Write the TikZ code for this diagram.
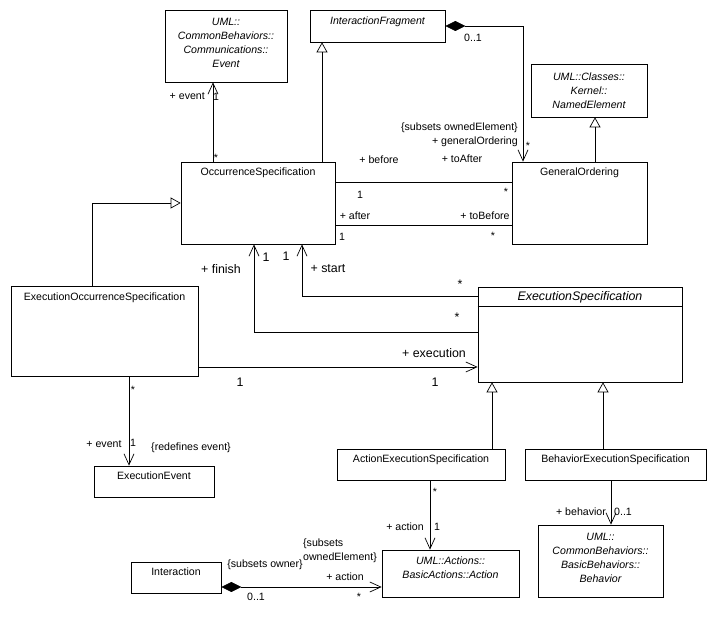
\documentclass[tikz,border=0pt]{standalone}
\usepackage{fontspec}
\setmainfont{Liberation Sans}
\usetikzlibrary{arrows.meta}
\newcommand{\umlsmall}{\fontsize{10.6}{14}\selectfont}
\newcommand{\umlbig}{\fontsize{12.4}{15}\selectfont}
\tikzset{
  cls/.style={draw, line width=0.7pt, inner sep=0pt},
  ttl/.style={font=\umlsmall, inner sep=0pt, anchor=north, align=center},
  lbl/.style={font=\umlsmall, inner sep=0pt},
  big/.style={font=\umlbig, inner sep=0pt},
  plain/.style={line width=0.7pt},
  assoc/.style={line width=0.7pt, -{Straight Barb[length=11pt,width=10pt]}},
  gen/.style={line width=0.7pt, -{Triangle[open,length=10pt,width=11pt]}},
  comp/.style={line width=0.7pt, {Diamond[length=20pt,width=10pt]}-{Straight Barb[length=11pt,width=10pt]}},
}
\begin{document}
\begin{tikzpicture}[x=1pt,y=-1pt]
\path[fill=white, use as bounding box] (0,0) rectangle (716,628);

%Event
\node[cls, minimum width=122pt, minimum height=72pt] (evt) at (226,46) {};
\node[ttl] (tEvt) at ([yshift=-8pt]evt.north) {\itshape UML::\\\itshape CommonBehaviors::\\\itshape Communications::\\\itshape Event};
%InteractionFragment
\node[cls, minimum width=135pt, minimum height=32pt] (frag) at (377.5,26) {};
\node[ttl] (tFrag) at ([yshift=-7pt]frag.north) {\itshape InteractionFragment};
%NamedElement
\node[cls, minimum width=116pt, minimum height=53pt] (named) at (589,90.5) {};
\node[ttl] (tNamed) at ([yshift=-9pt]named.north) {\itshape UML::Classes::\\\itshape Kernel::\\\itshape NamedElement};
%GeneralOrdering
\node[cls, minimum width=135pt, minimum height=82pt] (gord) at (579.5,203) {};
\node[ttl] (tGord) at ([yshift=-6pt]gord.north) {GeneralOrdering};
%OccurrenceSpecification
\node[cls, minimum width=154pt, minimum height=82pt] (occ) at (258,203) {};
\node[ttl] (tOcc) at ([yshift=-6pt]occ.north) {OccurrenceSpecification};
%ExecutionOccurrenceSpecification
\node[cls, minimum width=187pt, minimum height=90pt] (eos) at (104.5,331) {};
\node[ttl] (tEos) at ([yshift=-7pt]eos.north) {ExecutionOccurrenceSpecification};
%ExecutionEvent
\node[cls, minimum width=120pt, minimum height=31pt] (eevt) at (154,481.5) {};
\node[ttl] (tEevt) at ([yshift=-6pt]eevt.north) {ExecutionEvent};
%ExecutionSpecification
\node[cls, minimum width=204pt, minimum height=95pt] (exsp) at (580,334.5) {};
\node[ttl, font=\umlbig] (tExsp) at ([yshift=-5pt]exsp.north) {\itshape ExecutionSpecification};
\coordinate (yComp) at (0,306);
\draw[plain] (exsp.west |- yComp) -- (exsp.east |- yComp);
%ActionExecutionSpecification
\node[cls, minimum width=168pt, minimum height=31pt] (aes) at (421,464.5) {};
\node[ttl] (tAes) at ([yshift=-6pt]aes.north) {ActionExecutionSpecification};
%BehaviorExecutionSpecification
\node[cls, minimum width=181pt, minimum height=31pt] (bes) at (615.5,464.5) {};
\node[ttl] (tBes) at ([yshift=-6pt]bes.north) {BehaviorExecutionSpecification};
%Action
\node[cls, minimum width=137pt, minimum height=47pt] (act) at (450.5,573.5) {};
\node[ttl] (tAct) at ([yshift=-7pt]act.north) {\itshape UML::Actions::\\\itshape BasicActions::Action};
%Interaction
\node[cls, minimum width=90pt, minimum height=31pt] (inter) at (176,577.5) {};
\node[ttl] (tInter) at ([yshift=-6pt]inter.north) {Interaction};
%Behavior
\node[cls, minimum width=125pt, minimum height=72pt] (beh) at (600.5,561) {};
\node[ttl] (tBeh) at ([yshift=-8pt]beh.north) {\itshape UML::\\\itshape CommonBehaviors::\\\itshape BasicBehaviors::\\\itshape Behavior};

%guides
\coordinate (xEvt) at (213,0);
\coordinate (xFrag) at (322,0);
\coordinate (xOrd) at (523,0);
\coordinate (xNamed) at (595,0);
\coordinate (yBefore) at (0,182);
\coordinate (yAfter) at (0,225);
\coordinate (xEos) at (92,0);
\coordinate (yEos) at (0,203);
\coordinate (xStart) at (302,0);
\coordinate (yStart) at (0,296);
\coordinate (xFinish) at (254,0);
\coordinate (yFinish) at (0,332);
\coordinate (yExec) at (0,367);
\coordinate (xEevt) at (129,0);
\coordinate (xAes) at (492,0);
\coordinate (xBes) at (603,0);
\coordinate (xAct) at (430,0);
\coordinate (yInter) at (0,587);
\coordinate (xBeh) at (611,0);

%connectors
\draw[assoc] (occ.north -| xEvt) -- (evt.south -| xEvt);
\draw[gen] (occ.north -| xFrag) -- (frag.south -| xFrag);
\draw[comp] (frag.east) -| (gord.north -| xOrd);
\draw[gen] (gord.north -| xNamed) -- (named.south -| xNamed);
\draw[plain] (occ.east |- yBefore) -- (gord.west |- yBefore);
\draw[plain] (occ.east |- yAfter) -- (gord.west |- yAfter);
\draw[gen] (eos.north -| xEos) |- (occ.west |- yEos);
\draw[assoc] (exsp.west |- yStart) -| (occ.south -| xStart);
\draw[assoc] (exsp.west |- yFinish) -| (occ.south -| xFinish);
\draw[assoc] (eos.east |- yExec) -- (exsp.west |- yExec);
\draw[assoc] (eos.south -| xEevt) -- (eevt.north -| xEevt);
\draw[gen] (aes.north -| xAes) -- (exsp.south -| xAes);
\draw[gen] (bes.north -| xBes) -- (exsp.south -| xBes);
\draw[assoc] (aes.south -| xAct) -- (act.north -| xAct);
\draw[comp] (inter.east |- yInter) -- (act.west |- yInter);
\draw[assoc] (bes.south -| xBeh) -- (beh.north -| xBeh);

%labels
\node[lbl, anchor=east] (lEvtRole) at (205,96) {+ event};
\node[lbl, anchor=west] (lEvtOne) at (213,97) {1};
\node[lbl] (lEvtStar) at (216,158) {*};
\node[lbl] (lOrdZero) at (473,38) {0..1};
\node[lbl, anchor=east, align=right] (lOrdRole) at (518,135) {\{subsets ownedElement\}\\+ generalOrdering};
\node[lbl] (lOrdStar) at (528,146) {*};
\node[lbl] (lBefore) at (379,160) {+ before};
\node[lbl] (lToAfter) at (462,159) {+ toAfter};
\node[lbl] (lBeforeOne) at (360,195) {1};
\node[lbl] (lBeforeStar) at (506,192) {*};
\node[lbl] (lAfter) at (355,216) {+ after};
\node[lbl] (lToBefore) at (485,216) {+ toBefore};
\node[lbl] (lAfterOne) at (342,237) {1};
\node[lbl] (lAfterStar) at (493,236) {*};
\node[big] (lFinishOne) at (266,257) {1};
\node[big] (lStartOne) at (286,256) {1};
\node[big] (lFinish) at (221,269) {+ finish};
\node[big] (lStart) at (328,269) {+ start};
\node[big] (lStartStar) at (460,284) {*};
\node[big] (lFinishStar) at (457,317) {*};
\node[big] (lExec) at (434,353) {+ execution};
\node[big] (lExecOne) at (435,382) {1};
\node[big] (lEosOne) at (240,382) {1};
\node[lbl] (lEosStar) at (133,390) {*};
\node[lbl] (lEevtRole) at (104,444) {+ event};
\node[lbl] (lEevtOne) at (133,443) {1};
\node[lbl] (lRedef) at (191,448) {\{redefines event\}};
\node[lbl] (lAesStar) at (435,492) {*};
\node[lbl] (lActRole) at (405,527) {+ action};
\node[lbl] (lActOne) at (437,527) {1};
\node[lbl] (lOwner) at (265,565) {\{subsets owner\}};
\node[lbl, anchor=west, align=left] (lOwned) at (303,551) {\{subsets\\ownedElement\}};
\node[lbl] (lInterRole) at (345,577) {+ action};
\node[lbl] (lInterZero) at (256,597) {0..1};
\node[lbl] (lInterStar) at (359,597) {*};
\node[lbl] (lBehRole) at (581,512) {+ behavior};
\node[lbl] (lBehZero) at (623,512) {0..1};
\end{tikzpicture}
\end{document}
